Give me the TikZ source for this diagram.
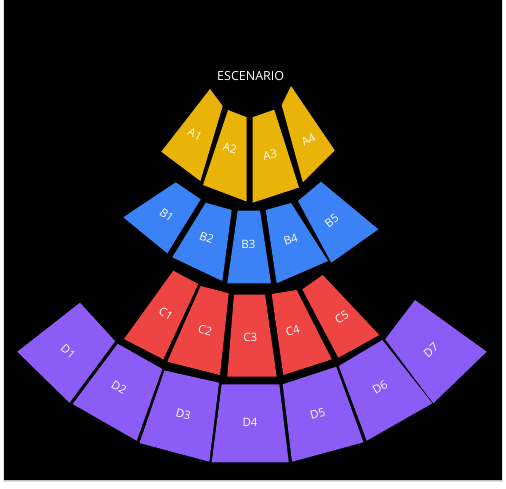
\documentclass[tikz,border=0pt]{standalone}
\usepackage{fontspec}
\setmainfont{Open Sans}
\definecolor{secA}{HTML}{EAB308}
\definecolor{secB}{HTML}{3B82F6}
\definecolor{secC}{HTML}{EF4444}
\definecolor{secD}{HTML}{8B5CF6}
\tikzset{
  zoneA/.style={fill=secA},
  zoneB/.style={fill=secB},
  zoneC/.style={fill=secC},
  zoneD/.style={fill=secD},
  lab/.style={text=white, font=\fontsize{11.5}{12}\selectfont, inner sep=0pt},
}
\begin{document}
\begin{tikzpicture}[x=1pt,y=-1pt]
\useasboundingbox (0,0) rectangle (506,488);
\fill[white] (0,0) rectangle (506,488);
\fill[black!12] (3,0) rectangle (503,482);
\fill[black!25] (3.6,0) rectangle (502.4,480.5);
\fill[black] (4,0) rectangle (502,479.5);
\node[lab, font=\fontsize{12.5}{13}\selectfont] (stage) at (250.7,75.7) {ESCENARIO};
% A row
\fill[zoneA] (210,89) -- (222.7,106) -- (200.4,181) -- (161.3,151.7) -- cycle;
\fill[zoneA] (228,110) -- (246.7,117.3) -- (246.7,201.5) -- (203,185) -- cycle;
\fill[zoneA] (252.5,117.3) -- (274.2,109.7) -- (299,187.5) -- (252.5,202.7) -- cycle;
\fill[zoneA] (291,86) -- (334.7,150.3) -- (302.8,182.2) -- (281.7,105) -- cycle;
% B row
\fill[zoneB] (175.7,182.3) -- (200.7,199.3) -- (167.3,253.3) -- (123.3,217.3) -- cycle;
\fill[zoneB] (205.7,202.7) -- (231.7,210) -- (222.3,281) -- (172.3,257.3) -- cycle;
\fill[zoneB] (237.7,210.7) -- (260,210.7) -- (271,283.3) -- (227.3,283.3) -- cycle;
\fill[zoneB] (265.7,210) -- (291,203) -- (328,261) -- (276.7,283.3) -- cycle;
\fill[zoneB] (298,201) -- (321,181.7) -- (378.3,229.3) -- (331.3,262.7) -- cycle;
% C row
\fill[zoneC] (173.3,270.7) -- (198.3,284) -- (163.3,359.3) -- (124,339) -- cycle;
\fill[zoneC] (200.7,286) -- (228.7,293.3) -- (220,375) -- (167.3,361.7) -- cycle;
\fill[zoneC] (234,294.5) -- (265,294.5) -- (276.7,376.7) -- (227.3,376.7) -- cycle;
\fill[zoneC] (271.7,294) -- (296.7,290) -- (331.7,359.3) -- (283.3,375) -- cycle;
\fill[zoneC] (302.3,289.3) -- (322.7,275) -- (379.3,335) -- (338.3,357.7) -- cycle;
% D row
\fill[zoneD] (80,302.7) -- (115.2,341.2) -- (69.5,402.8) -- (17.3,351.7) -- cycle;
\fill[zoneD] (117.7,343.8) -- (162.3,369) -- (136.7,440.7) -- (72.7,404) -- cycle;
\fill[zoneD] (164.5,370.5) -- (219,382.7) -- (209.3,461.7) -- (139.5,443) -- cycle;
\fill[zoneD] (221.7,384.3) -- (279.3,384.3) -- (288.7,462.3) -- (211.7,462.3) -- cycle;
\fill[zoneD] (282.7,384.3) -- (336.2,366.7) -- (363.5,442.3) -- (292,461.7) -- cycle;
\fill[zoneD] (338.8,366) -- (382.3,340) -- (432.3,403.3) -- (366.7,440.7) -- cycle;
\fill[zoneD] (385.2,339.3) -- (415,300) -- (486.7,351.7) -- (433.3,403.3) -- cycle;
% labels
\node[lab, rotate=-28] (lA1) at (195,134.3) {A1};
\node[lab, rotate=-12] (lA2) at (230,148.3) {A2};
\node[lab, rotate=10] (lA3) at (270,155) {A3};
\node[lab, rotate=28] (lA4) at (308.3,140) {A4};
\node[lab, rotate=-36] (lB1) at (166.7,215) {B1};
\node[lab, rotate=-20] (lB2) at (206.7,237.7) {B2};
\node[lab] (lB3) at (248.5,244) {B3};
\node[lab, rotate=18] (lB4) at (290.7,239.3) {B4};
\node[lab, rotate=37] (lB5) at (331.7,220.7) {B5};
\node[lab, rotate=-31] (lC1) at (166,314) {C1};
\node[lab, rotate=-15] (lC2) at (205,330) {C2};
\node[lab] (lC3) at (250.3,337.3) {C3};
\node[lab, rotate=16] (lC4) at (292.7,330.7) {C4};
\node[lab, rotate=32] (lC5) at (341.7,317.3) {C5};
\node[lab, rotate=-42] (lD1) at (68.3,351.7) {D1};
\node[lab, rotate=-29] (lD2) at (119,387.7) {D2};
\node[lab, rotate=-14] (lD3) at (183.3,414.3) {D3};
\node[lab] (lD4) at (250,422.7) {D4};
\node[lab, rotate=14] (lD5) at (317.7,413.3) {D5};
\node[lab, rotate=30] (lD6) at (380,387.3) {D6};
\node[lab, rotate=42] (lD7) at (431,350) {D7};
\end{tikzpicture}
\end{document}
